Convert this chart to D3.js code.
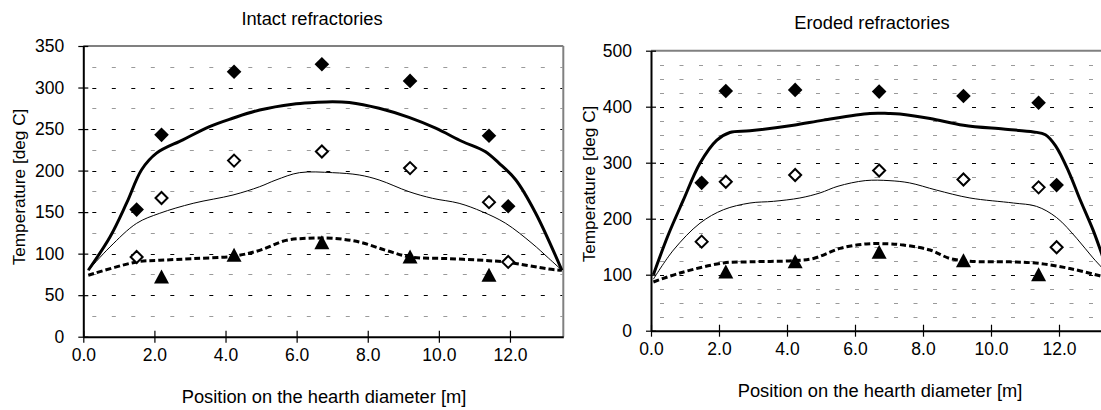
<!DOCTYPE html>
<html><head><meta charset="utf-8">
<script src="https://cdn.jsdelivr.net/npm/d3@7"></script>
<style>
html,body{margin:0;padding:0;background:#fff;}
svg{display:block;font-family:"Liberation Sans",Arial,sans-serif;}
</style></head>
<body>
<svg id="chart" width="1101" height="410"></svg>
<script>
// ---------- DATA ----------
const xTicks = [0, 2, 4, 6, 8, 10, 12];
const chartTitles = ["Intact refractories", "Eroded refractories"];
const xAxisTitle = "Position on the hearth diameter [m]";
const yAxisTitle = "Temperature [deg C]";

// Intact refractories
const intactYTicks = [0, 50, 100, 150, 200, 250, 300, 350];
const intactMarkX = [1.5, 2.2, 4.24, 6.71, 9.19, 11.41, 11.95];
const intactFilled = [153, 243, 319, 328, 308, 242, 157];
const intactOpen = [96, 167, 212, 223, 203, 162, 90];
const intactTriX = [2.2, 4.24, 6.71, 9.19, 11.41];
const intactTri = [72, 98, 113, 96, 74];
const intactThickX = [0.14, 0.75, 1.22, 1.64, 2.06, 2.8, 3.55, 4.2, 4.96, 5.89, 6.5, 7.01, 7.48, 8.32, 9.16, 9.91, 10.66, 11.3, 11.69, 12.16, 12.72, 13.46];
const intactThickY = [80, 120, 161, 201, 221, 237, 253, 263, 273, 280, 282, 283, 282, 275, 264, 251, 235, 223, 209, 189, 149, 80];
const intactThinX = [0.14, 0.75, 1.5, 2.15, 3.09, 4.21, 4.96, 5.42, 6.08, 7.01, 7.76, 8.32, 9.16, 9.82, 10.57, 11.22, 11.88, 12.62, 13.09, 13.46];
const intactThinY = [80, 108, 136.5, 148.6, 160.6, 170.6, 180.6, 188.7, 197.5, 197.5, 194.7, 188.7, 174.6, 166.6, 160.6, 150.5, 136.5, 112.4, 94.4, 80];
const intactDashX = [0.14, 1.5, 2.15, 3.09, 4.24, 4.96, 5.7, 6.31, 7.01, 7.76, 8.51, 9.19, 10.29, 11.41, 11.95, 13.09, 13.46];
const intactDashY = [74, 90, 92, 94, 97, 104, 116, 118.5, 118.5, 114, 104, 96, 94, 91.5, 89.6, 81.5, 80];

// Eroded refractories
const erodedYTicks = [0, 100, 200, 300, 400, 500];
const erodedMarkX = [1.49, 2.2, 4.24, 6.71, 9.19, 11.4, 11.93];
const erodedFilled = [264, 428, 430, 427, 419, 407, 260];
const erodedOpen = [159, 266, 278, 286, 270, 256, 149];
const erodedTriX = [2.2, 4.24, 6.71, 9.19, 11.4];
const erodedTri = [105, 123, 140, 125, 100];
const erodedThickX = [0.07, 0.5, 0.95, 1.44, 1.93, 2.32, 2.91, 4.19, 5.07, 6.44, 6.98, 7.32, 8.21, 9.19, 10.36, 11.25, 11.6, 11.9, 12.3, 12.6, 13.0, 13.24, 13.46];
const erodedThickY = [100, 170, 233, 299, 340, 354, 357, 367, 376, 388, 388, 387, 379, 367, 360, 355, 350, 330, 282, 237, 180, 140, 100];
const erodedThinX = [0.07, 0.66, 1.44, 2.13, 2.91, 3.6, 4.38, 4.97, 5.5, 6.3, 7.0, 7.6, 8.4, 9.38, 10.66, 11.34, 11.93, 12.52, 13.0, 13.46];
const erodedThinY = [92, 144, 192, 216, 228, 231, 237, 246, 258, 268, 268, 264, 251, 237, 228, 222, 202, 165, 130, 100];
const erodedDashX = [0.07, 0.85, 2.13, 2.91, 4.19, 4.78, 5.56, 6.34, 7.0, 7.42, 8.21, 8.79, 9.38, 10.56, 11.44, 12.32, 13.2, 13.46];
const erodedDashY = [87, 103, 121, 123, 125, 129, 147, 155, 155, 153, 144, 129, 124, 123, 120, 111, 98, 93];

// ---------- DRAW ----------
const svg = d3.select("#chart");
const TICK_FONT = 17.5;
const TITLE_FONT = 18.3;
const YTITLE_FONT = 17.2;

function zip(xs, ys) { return xs.map((x, i) => [x, ys[i]]); }

function drawPanel(cfg) {
  const g = svg.append("g");
  const x = d3.scaleLinear().domain([0, 13.5]).range([cfg.left, cfg.right]);
  const y = d3.scaleLinear().domain([0, cfg.yMax]).range([cfg.bottom, cfg.top]);

  // gridlines
  const grid = d3.range(cfg.minorStep, cfg.yMax, cfg.minorStep);
  g.append("g").selectAll("line").data(grid).join("line")
    .attr("x1", cfg.left + 1).attr("x2", cfg.right - 1)
    .attr("y1", d => Math.round(y(d)) + 0.5).attr("y2", d => Math.round(y(d)) + 0.5)
    .attr("stroke", d => (d % cfg.majorStep === 0) ? "#000" : "#9a9a9a")
    .attr("stroke-width", 1)
    .attr("stroke-dasharray", "4,15.5")
    .attr("stroke-dashoffset", -8);

  // frame top/right (gray)
  g.append("line").attr("x1", cfg.left).attr("x2", cfg.right)
    .attr("y1", cfg.top).attr("y2", cfg.top).attr("stroke", "#808080").attr("stroke-width", 2);
  g.append("line").attr("x1", cfg.right).attr("x2", cfg.right)
    .attr("y1", cfg.top).attr("y2", cfg.bottom).attr("stroke", "#808080").attr("stroke-width", 2);

  // axes
  const xAxis = d3.axisBottom(x).tickValues(xTicks).tickFormat(d3.format(".1f"))
    .tickSizeInner(6).tickSizeOuter(0).tickPadding(10);
  const gx = g.append("g").attr("transform", `translate(0,${cfg.bottom})`).call(xAxis);
  gx.select(".domain").attr("stroke", "#000").attr("stroke-width", 2);
  gx.selectAll(".tick line").attr("y1", -6).attr("y2", 6).attr("stroke", "#000").attr("stroke-width", 1.2);
  gx.selectAll(".tick text").attr("font-size", TICK_FONT).attr("font-family", "Liberation Sans, Arial, sans-serif")
    .attr("fill", "#000").attr("dy", "0.71em").attr("y", cfg.xLabelDy);

  const yAxis = d3.axisLeft(y).tickValues(cfg.yTicks).tickFormat(d3.format("d"))
    .tickSizeInner(5).tickSizeOuter(0).tickPadding(14);
  const gy = g.append("g").attr("transform", `translate(${cfg.left},0)`).call(yAxis);
  gy.select(".domain").attr("stroke", "#000").attr("stroke-width", 2);
  gy.selectAll(".tick line").attr("x1", -5).attr("x2", 5).attr("stroke", "#000").attr("stroke-width", 1.2);
  gy.selectAll(".tick text").attr("font-size", TICK_FONT).attr("font-family", "Liberation Sans, Arial, sans-serif").attr("fill", "#000");

  // lines
  const line = d3.line().x(d => x(d[0])).y(d => y(d[1])).curve(d3.curveCatmullRom.alpha(0.5));
  g.append("path").datum(zip(cfg.thinX, cfg.thinY)).attr("d", line)
    .attr("fill", "none").attr("stroke", "#000").attr("stroke-width", 1);
  g.append("path").datum(zip(cfg.thickX, cfg.thickY)).attr("d", line)
    .attr("fill", "none").attr("stroke", "#000").attr("stroke-width", 3);
  g.append("path").datum(zip(cfg.dashX, cfg.dashY)).attr("d", line)
    .attr("fill", "none").attr("stroke", "#000").attr("stroke-width", 3)
    .attr("stroke-dasharray", "6,3");

  // markers
  const diamond = r => `M0,${-r}L${r},0L0,${r}L${-r},0Z`;
  g.append("g").selectAll("path").data(zip(cfg.markX, cfg.filled)).join("path")
    .attr("transform", d => `translate(${x(d[0])},${y(d[1])})`)
    .attr("d", diamond(7.3)).attr("fill", "#000");
  g.append("g").selectAll("path").data(zip(cfg.markX, cfg.open)).join("path")
    .attr("transform", d => `translate(${x(d[0])},${y(d[1])})`)
    .attr("d", diamond(6)).attr("fill", "#fff").attr("stroke", "#000").attr("stroke-width", 2);
  g.append("g").selectAll("path").data(zip(cfg.triX, cfg.tri)).join("path")
    .attr("transform", d => `translate(${x(d[0])},${y(d[1])})`)
    .attr("d", "M0,-7.5L7.5,6.5L-7.5,6.5Z").attr("fill", "#000");

  // texts
  g.append("text").attr("x", cfg.titleX).attr("y", cfg.titleY).attr("text-anchor", "middle")
    .attr("font-size", TITLE_FONT).text(cfg.title);
  g.append("text").attr("x", cfg.xTitleX).attr("y", cfg.xTitleY).attr("text-anchor", "middle")
    .attr("font-size", TITLE_FONT).text(xAxisTitle);
  g.append("text").attr("transform", `translate(${cfg.yTitleX},${cfg.yTitleY}) rotate(-90)`)
    .attr("text-anchor", "middle").attr("font-size", YTITLE_FONT).text(yAxisTitle);
}

drawPanel({
  left: 83.3, right: 563.3, top: 46, bottom: 336.7, yMax: 350,
  yTicks: intactYTicks, minorStep: 25, majorStep: 50, xLabelDy: 12,
  markX: intactMarkX, filled: intactFilled, open: intactOpen,
  triX: intactTriX, tri: intactTri,
  thickX: intactThickX, thickY: intactThickY,
  thinX: intactThinX, thinY: intactThinY,
  dashX: intactDashX, dashY: intactDashY,
  title: chartTitles[0], titleX: 312, titleY: 25,
  xTitleX: 324, xTitleY: 403, yTitleX: 25, yTitleY: 187
});

drawPanel({
  left: 651, right: 1110, top: 50.7, bottom: 330.7, yMax: 500,
  yTicks: erodedYTicks, minorStep: 25, majorStep: 100, xLabelDy: 12,
  markX: erodedMarkX, filled: erodedFilled, open: erodedOpen,
  triX: erodedTriX, tri: erodedTri,
  thickX: erodedThickX, thickY: erodedThickY,
  thinX: erodedThinX, thinY: erodedThinY,
  dashX: erodedDashX, dashY: erodedDashY,
  title: chartTitles[1], titleX: 872, titleY: 29,
  xTitleX: 880, xTitleY: 397, yTitleX: 595, yTitleY: 184
});
</script>
</body></html>
